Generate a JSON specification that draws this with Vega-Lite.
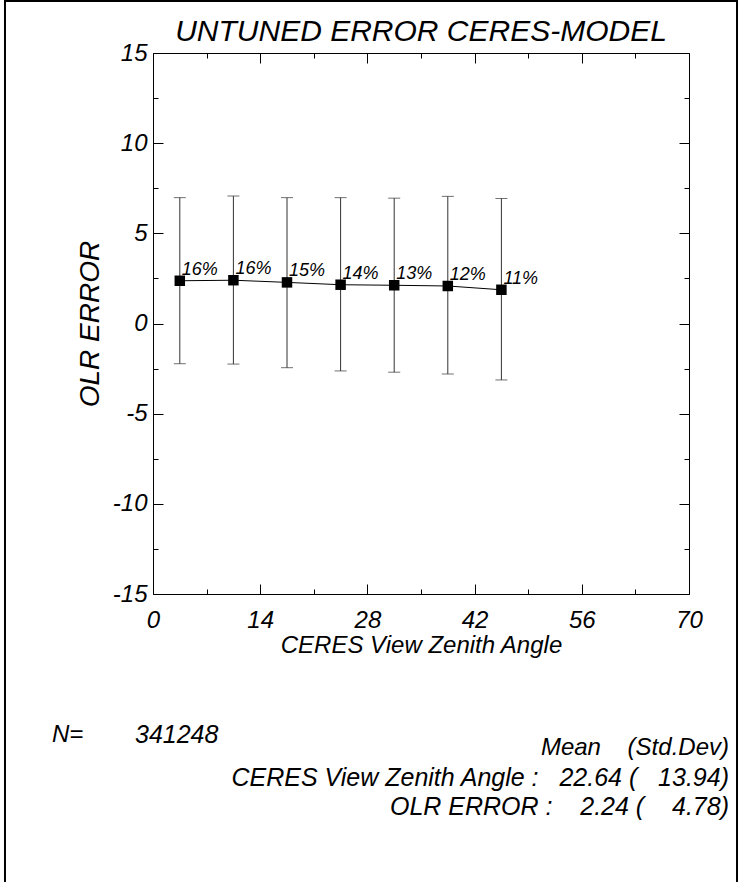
{
  "$schema": "https://vega.github.io/schema/vega-lite/v6.json",
  "width": 536,
  "height": 541,
  "autosize": "none",
  "padding": {"left": 153, "top": 53, "right": 54, "bottom": 288},
  "background": "white",
  "view": {"stroke": "black", "strokeWidth": 1},
  "config": {
    "font": "Liberation Sans",
    "axis": {
      "domain": false,
      "grid": false,
      "tickColor": "black",
      "tickWidth": 1,
      "labelColor": "black",
      "labelFont": "Liberation Sans",
      "labelFontStyle": "italic",
      "labelFontSize": 24,
      "labelFlush": false,
      "labelOverlap": false,
      "titleColor": "black",
      "titleFont": "Liberation Sans",
      "titleFontStyle": "italic",
      "titleFontWeight": "normal",
      "titleFontSize": 24
    }
  },
  "data": {
    "values": [
      {"angle": 3.5, "mean": 2.37, "lo": -2.23, "hi": 6.98, "pct": "16%"},
      {"angle": 10.5, "mean": 2.4, "lo": -2.25, "hi": 7.07, "pct": "16%"},
      {"angle": 17.5, "mean": 2.28, "lo": -2.45, "hi": 6.98, "pct": "15%"},
      {"angle": 24.5, "mean": 2.15, "lo": -2.63, "hi": 6.98, "pct": "14%"},
      {"angle": 31.5, "mean": 2.12, "lo": -2.7, "hi": 6.95, "pct": "13%"},
      {"angle": 38.5, "mean": 2.08, "lo": -2.8, "hi": 7.05, "pct": "12%"},
      {"angle": 45.5, "mean": 1.87, "lo": -3.13, "hi": 6.93, "pct": "11%"}
    ]
  },
  "resolve": {"axis": {"x": "independent", "y": "independent"}},
  "layer": [
    {
      "mark": {"type": "rule", "color": "#333333", "strokeWidth": 1},
      "encoding": {
        "x": {
          "field": "angle", "type": "quantitative",
          "scale": {"domain": [0, 70], "nice": false, "zero": false},
          "axis": {
            "orient": "bottom",
            "values": [0, 14, 28, 42, 56, 70],
            "tickSize": -10,
            "labelPadding": 24,
            "labelExpr": "'' + datum.value",
            "title": "CERES View Zenith Angle",
            "titleX": 268, "titleY": 51,
            "titleAlign": "center", "titleBaseline": "middle"
          }
        },
        "y": {
          "field": "lo", "type": "quantitative",
          "scale": {"domain": [-15, 15], "nice": false, "zero": false},
          "axis": {
            "orient": "left",
            "values": [-15, -10, -5, 0, 5, 10, 15],
            "tickSize": -10,
            "labelPadding": 16,
            "labelExpr": "'' + datum.value",
            "title": "OLR ERROR",
            "titleFontSize": 28,
            "titleX": -63, "titleY": 270.5, "titleAngle": -90,
            "titleAlign": "center", "titleBaseline": "middle"
          }
        },
        "y2": {"field": "hi"}
      }
    },
    {
      "mark": {"type": "tick", "orient": "horizontal", "color": "#333333", "size": 12, "thickness": 1},
      "encoding": {
        "x": {
          "field": "angle", "type": "quantitative",
          "axis": {"orient": "bottom", "values": [7, 21, 35, 49, 63], "tickSize": -5, "labels": false, "title": null}
        },
        "y": {
          "field": "lo", "type": "quantitative",
          "axis": {"orient": "left", "values": [-12.5, -7.5, -2.5, 2.5, 7.5, 12.5], "tickSize": -5, "labels": false, "title": null}
        }
      }
    },
    {
      "mark": {"type": "tick", "orient": "horizontal", "color": "#333333", "size": 12, "thickness": 1},
      "encoding": {
        "x": {
          "field": "angle", "type": "quantitative",
          "axis": {"orient": "top", "values": [0, 14, 28, 42, 56, 70], "tickSize": -10, "labels": false, "title": null}
        },
        "y": {
          "field": "hi", "type": "quantitative",
          "axis": {"orient": "right", "values": [-15, -10, -5, 0, 5, 10, 15], "tickSize": -10, "labels": false, "title": null}
        }
      }
    },
    {
      "mark": {"type": "line", "color": "black", "strokeWidth": 1},
      "encoding": {
        "x": {
          "field": "angle", "type": "quantitative",
          "axis": {"orient": "top", "values": [7, 21, 35, 49, 63], "tickSize": -5, "labels": false, "title": null}
        },
        "y": {
          "field": "mean", "type": "quantitative",
          "axis": {"orient": "right", "values": [-12.5, -7.5, -2.5, 2.5, 7.5, 12.5], "tickSize": -5, "labels": false, "title": null}
        }
      }
    },
    {
      "mark": {"type": "point", "shape": "square", "filled": true, "color": "black", "size": 110, "opacity": 1},
      "encoding": {
        "x": {"field": "angle", "type": "quantitative", "axis": null},
        "y": {"field": "mean", "type": "quantitative", "axis": null}
      }
    },
    {
      "mark": {"type": "text", "align": "left", "baseline": "alphabetic", "dx": 2, "dy": -6, "fontSize": 18, "fontStyle": "italic", "font": "Liberation Sans", "color": "black"},
      "encoding": {
        "x": {"field": "angle", "type": "quantitative", "axis": null},
        "y": {"field": "mean", "type": "quantitative", "axis": null},
        "text": {"field": "pct"}
      }
    },
    {
      "data": {"values": [{}]},
      "layer": [
        {
          "mark": {"type": "rule", "color": "black", "strokeWidth": 2},
          "encoding": {
            "x": {"datum": -19.33, "type": "quantitative", "axis": null},
            "y": {"datum": 17.94, "type": "quantitative", "axis": null},
            "y2": {"datum": -30.97}
          }
        },
        {
          "mark": {"type": "rule", "color": "black", "strokeWidth": 2},
          "encoding": {
            "x": {"datum": 76.27, "type": "quantitative", "axis": null},
            "y": {"datum": 17.94, "type": "quantitative", "axis": null},
            "y2": {"datum": -30.97}
          }
        },
        {
          "mark": {"type": "rule", "color": "black", "strokeWidth": 2},
          "encoding": {
            "x": {"datum": -19.33, "type": "quantitative", "axis": null},
            "x2": {"datum": 76.27},
            "y": {"datum": 17.88, "type": "quantitative", "axis": null}
          }
        },
        {
          "mark": {"type": "text", "align": "center", "baseline": "middle", "fontSize": 30, "fontStyle": "italic", "font": "Liberation Sans", "color": "black"},
          "encoding": {
            "x": {"datum": 35, "type": "quantitative", "axis": null},
            "y": {"datum": 16.17, "type": "quantitative", "axis": null},
            "text": {"value": "UNTUNED ERROR CERES-MODEL"}
          }
        },
        {
          "mark": {"type": "text", "align": "left", "baseline": "middle", "fontSize": 24, "fontStyle": "italic", "font": "Liberation Sans", "color": "black"},
          "encoding": {
            "x": {"datum": -13.19, "type": "quantitative", "axis": null},
            "y": {"datum": -22.82, "type": "quantitative", "axis": null},
            "text": {"value": "N="}
          }
        },
        {
          "mark": {"type": "text", "align": "left", "baseline": "middle", "fontSize": 25, "fontStyle": "italic", "font": "Liberation Sans", "color": "black"},
          "encoding": {
            "x": {"datum": -2.35, "type": "quantitative", "axis": null},
            "y": {"datum": -22.82, "type": "quantitative", "axis": null},
            "text": {"value": "341248"}
          }
        },
        {
          "mark": {"type": "text", "align": "right", "baseline": "middle", "fontSize": 24, "fontStyle": "italic", "font": "Liberation Sans", "color": "black"},
          "encoding": {
            "x": {"datum": 75.22, "type": "quantitative", "axis": null},
            "y": {"datum": -23.54, "type": "quantitative", "axis": null},
            "text": {"value": "Mean\u00a0\u00a0\u00a0\u00a0(Std.Dev)"}
          }
        },
        {
          "mark": {"type": "text", "align": "right", "baseline": "middle", "fontSize": 25, "fontStyle": "italic", "font": "Liberation Sans", "color": "black"},
          "encoding": {
            "x": {"datum": 75.22, "type": "quantitative", "axis": null},
            "y": {"datum": -25.2, "type": "quantitative", "axis": null},
            "text": {"value": "CERES View Zenith Angle :\u00a0\u00a0\u00a022.64 (\u00a0\u00a0\u00a013.94)"}
          }
        },
        {
          "mark": {"type": "text", "align": "right", "baseline": "middle", "fontSize": 25, "fontStyle": "italic", "font": "Liberation Sans", "color": "black"},
          "encoding": {
            "x": {"datum": 75.22, "type": "quantitative", "axis": null},
            "y": {"datum": -26.81, "type": "quantitative", "axis": null},
            "text": {"value": "OLR ERROR :\u00a0\u00a0\u00a0\u00a02.24 (\u00a0\u00a0\u00a0\u00a04.78)"}
          }
        }
      ]
    }
  ]
}
